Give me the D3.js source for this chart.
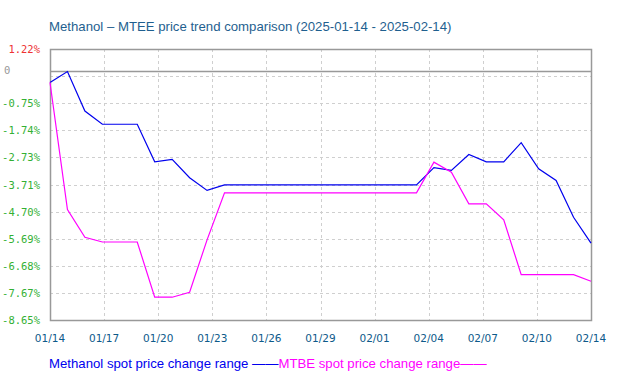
<!DOCTYPE html>
<meta charset="utf-8">
<script src="https://cdn.jsdelivr.net/npm/d3@7"></script>
<style>
body { margin: 0; background: #fff; }
.grid line { stroke: #cfcfcf; stroke-dasharray: 3,3; stroke-width: 1px; }
.line { fill: none; stroke-width: 1.2px; }
.ylab { font: 10.5px "DejaVu Sans Mono", monospace; }
.xlab { font: 10.5px "DejaVu Sans", sans-serif; fill: #0d5a8a; }
</style>
<body>
<script>

// data
var startDate = "2025-01-14", endDate = "2025-02-14";
var methanol = [0, 0.40, -1.04, -1.52, -1.52, -1.52, -2.89, -2.80, -3.47, -3.93, -3.73,
  -3.73, -3.73, -3.73, -3.73, -3.73, -3.73, -3.73, -3.73, -3.73, -3.73, -3.73,
  -3.10, -3.20, -2.62, -2.89, -2.89, -2.19, -3.14, -3.57, -4.91, -5.85];
var mtbe = [0, -4.63, -5.64, -5.81, -5.81, -5.81, -7.82, -7.82, -7.64, -5.73, -4.02,
  -4.02, -4.02, -4.02, -4.02, -4.02, -4.02, -4.02, -4.02, -4.02, -4.02, -4.02,
  -2.90, -3.27, -4.42, -4.42, -5.00, -7.00, -7.00, -7.00, -7.00, -7.24];
var yLabels = ["1.22%", "", "-0.75%", "-1.74%", "-2.73%", "-3.71%", "-4.70%", "-5.69%", "-6.68%", "-7.67%", "-8.65%"];
var xLabels = ["01/14", "01/17", "01/20", "01/23", "01/26", "01/29", "02/01", "02/04", "02/07", "02/10", "02/14"];
var yMax = 1.22, yMin = -8.65;
var zeroLine = 0.41; // where the chart draws its "0" line

var width = 617, height = 389;
var margin = {left: 50, right: 26, top: 49, bottom: 69};

var svg = d3.select("body").append("svg")
    .attr("width", width)
    .attr("height", height);

var parse = d3.timeParse("%Y-%m-%d");
var t0 = parse(startDate), t1 = parse(endDate);

var x = d3.scaleTime()
    .domain([t0, t1])
    .range([margin.left, width - margin.right]);

var y = d3.scaleLinear()
    .domain([yMax, yMin])
    .range([margin.top, height - margin.bottom]);

function day(i) { return d3.timeDay.offset(t0, i); }

var xTicks = d3.range(xLabels.length).map(function(i) {
  return new Date(+t0 + (t1 - t0) * i / (xLabels.length - 1));
});
var yTicks = d3.range(yLabels.length).map(function(i) {
  return yMax - (yMax - yMin) * i / (yLabels.length - 1);
});

// grid
var grid = svg.append("g").attr("class", "grid");
grid.selectAll(".h").data(yTicks.slice(1, -1)).enter().append("line")
    .attr("x1", margin.left).attr("x2", width - margin.right)
    .attr("y1", function(d) { return Math.round(y(d)) + 0.5; })
    .attr("y2", function(d) { return Math.round(y(d)) + 0.5; });
grid.selectAll(".v").data(xTicks.slice(1, -1)).enter().append("line")
    .attr("y1", margin.top).attr("y2", height - margin.bottom)
    .attr("x1", function(d) { return Math.round(x(d)) + 0.5; })
    .attr("x2", function(d) { return Math.round(x(d)) + 0.5; });

// zero line
svg.append("line")
    .attr("x1", margin.left).attr("x2", width - margin.right)
    .attr("y1", Math.round(y(zeroLine)) + 0.5).attr("y2", Math.round(y(zeroLine)) + 0.5)
    .style("stroke", "#999").style("stroke-width", 1.5);

// frame
svg.append("rect")
    .attr("x", margin.left + 0.5).attr("y", margin.top + 0.5)
    .attr("width", width - margin.left - margin.right)
    .attr("height", height - margin.top - margin.bottom)
    .style("fill", "none").style("stroke", "#999").style("stroke-width", 1.5);

// lines
var line = d3.line()
    .x(function(d, i) { return x(day(i)); })
    .y(function(d) { return y(d); });

svg.append("path").datum(methanol).attr("class", "line")
    .attr("d", line).style("stroke", "#0000ee");
svg.append("path").datum(mtbe).attr("class", "line")
    .attr("d", line).style("stroke", "#ff00ff");

// y labels
svg.selectAll(".ylab").data(yTicks).enter().append("text")
    .attr("class", "ylab")
    .attr("x", 40)
    .attr("y", function(d) { return y(d) + 4; })
    .attr("text-anchor", "end")
    .style("fill", function(d, i) { return i == 0 ? "#ee3333" : "#33b033"; })
    .text(function(d, i) { return yLabels[i]; });

svg.append("text").attr("class", "ylab")
    .attr("x", 4).attr("y", y(zeroLine) + 3)
    .style("fill", "#999")
    .text("0");

// x labels
svg.selectAll(".xlab").data(xTicks).enter().append("text")
    .attr("class", "xlab")
    .attr("x", function(d) { return x(d); })
    .attr("y", height - margin.bottom + 22)
    .attr("text-anchor", "middle")
    .text(function(d, i) { return xLabels[i]; });

// title
svg.append("text")
    .attr("x", 49).attr("y", 31)
    .style("font", "13.2px 'Liberation Sans', Arial, sans-serif")
    .style("fill", "#1f5f8f")
    .text("Methanol \u2013 MTEE price trend comparison (" + startDate + " - " + endDate + ")");

// legend
var leg = svg.append("text")
    .attr("x", 49).attr("y", 368)
    .style("font", "13.2px 'Liberation Sans', Arial, sans-serif");
leg.append("tspan").style("fill", "#0000ee").text("Methanol spot price change range \u2014\u2014");
leg.append("tspan").style("fill", "#ff00ff").text("MTBE spot price change range\u2014\u2014");

</script>
</body>
</html>
